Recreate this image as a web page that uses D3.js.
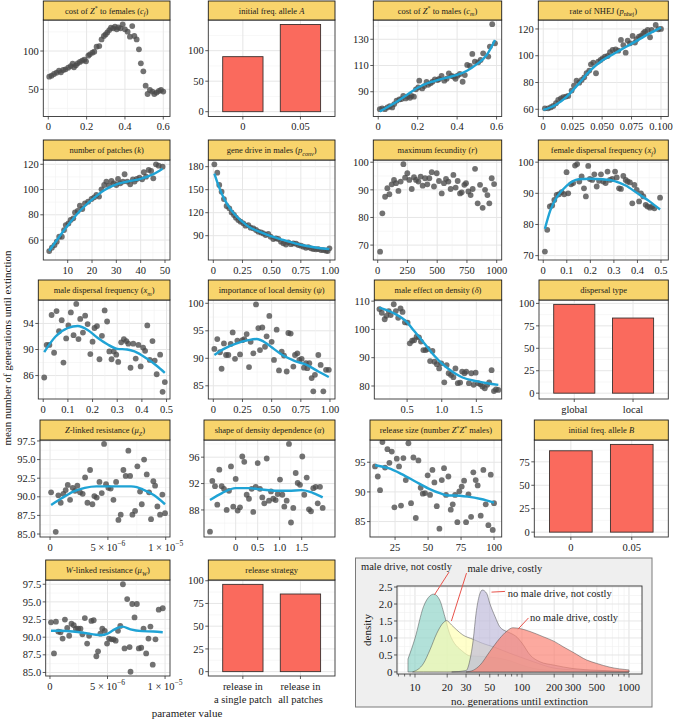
<!DOCTYPE html>
<html><head><meta charset="utf-8">
<script src="https://cdn.jsdelivr.net/npm/d3@7"></script>
<style>body{margin:0;background:#fff}svg{display:block}</style>
</head><body>
<svg id="c" width="674" height="720"></svg>
<script>
// ---------------- DATA ----------------
const cfX=[0.005,0.017,0.030,0.043,0.056,0.066,0.078,0.090,0.104,0.117,0.127,0.134,0.144,0.153,0.165,0.177,0.188,0.197,0.209,0.217,0.230,0.240,0.252,0.266,0.278,0.290,0.299,0.308,0.318,0.327,0.339,0.348,0.357,0.365,0.377,0.388,0.400,0.414,0.426,0.438,0.449,0.461,0.473,0.483,0.496,0.508,0.518,0.530,0.543,0.553,0.565,0.577,0.588,0.600];
const cfY=[66.5,67.8,70.0,71.7,74.3,72.2,75.2,76.1,78.3,80.4,83.5,78.7,81.3,83.9,85.7,87.4,88.7,86.5,93.9,95.7,97.8,99.1,105.7,106.5,115.2,119.6,121.7,124.3,127.4,130.4,129.6,131.7,128.3,130.9,129.6,134.8,128.3,125.2,118.7,132.6,119.6,115.2,102.2,83.9,73.5,54.8,43.9,49.1,47.0,43.9,45.7,47.8,49.1,47.0];

const afCats=["0","0.05"], afVals=[90.2,143];

const cmX=[0.008,0.020,0.034,0.047,0.059,0.071,0.081,0.093,0.107,0.118,0.127,0.139,0.149,0.161,0.169,0.181,0.191,0.203,0.208,0.223,0.233,0.245,0.253,0.265,0.275,0.287,0.301,0.309,0.321,0.335,0.347,0.358,0.372,0.384,0.392,0.402,0.414,0.428,0.439,0.451,0.465,0.477,0.490,0.507,0.519,0.532,0.558,0.566,0.578,0.592];
const cmY=[76.7,77.3,76.7,78.0,79.0,78.0,80.6,83.1,84.1,84.4,86.9,84.9,86.2,85.4,86.9,86.2,91.8,93.3,98.4,92.5,94.3,97.4,95.3,96.4,97.6,99.4,98.9,99.7,102.0,98.4,99.9,104.0,102.0,101.5,99.9,102.2,103.5,97.6,102.7,110.4,109.6,118.8,112.9,112.4,114.2,119.3,116.8,124.4,141.5,126.9];
const cmLX=[0.008,0.05,0.1,0.15,0.2,0.25,0.3,0.35,0.4,0.45,0.5,0.55,0.592];
const cmLY=[75,78.5,83,88,93,96.5,98.8,100.8,102.8,106,111,118,129.5];

const nhX=[0.0014,0.0042,0.0065,0.0085,0.0108,0.0127,0.0150,0.0170,0.0193,0.0212,0.0241,0.0261,0.0283,0.0306,0.0326,0.0348,0.0368,0.0391,0.0405,0.0425,0.0448,0.0467,0.0487,0.0504,0.0524,0.0547,0.0567,0.0589,0.0615,0.0637,0.0660,0.0680,0.0700,0.0717,0.0737,0.0759,0.0779,0.0793,0.0813,0.0830,0.0850,0.0864,0.0887,0.0907,0.0921,0.0955,0.0977,0.1000];
const nhY=[60.7,60.7,61.5,62.5,64.5,67,68.2,69,69.5,70,74,77.7,81.4,79.9,81.9,83.9,86.9,88.9,93.6,94.9,86.9,95.6,96.8,98.1,99.3,99.8,102.6,104.3,104.8,103.8,111.8,108,102.3,111.3,109.3,114.8,109.8,112.3,114.3,114.8,116.8,118,119.3,113.8,119.3,123,119.8,120];
const nhLX=[0,0.01,0.02,0.03,0.04,0.05,0.06,0.07,0.08,0.09,0.1];
const nhLY=[59.5,63,69.5,79,89,96.5,101.5,106.5,111.5,116.5,121];

const kX=[2.4,3.5,4.6,5.5,6.5,7.6,8.5,9.2,10.3,11.2,12.3,13.0,14.1,15.0,16.0,17.1,18.4,19.8,20.9,21.8,22.9,23.9,25.0,25.9,27.0,28.0,28.9,30.0,30.7,31.6,32.7,33.4,34.5,35.7,36.8,37.5,38.4,39.5,40.6,41.3,42.2,43.3,44.3,45.2,46.3,47.4,49.0];
const kY=[51.3,53.9,56,58.7,62.6,62.6,67.9,71.9,73.2,75.9,77.2,81.9,83,87.2,84.6,89.1,90.4,92.5,93.8,95.7,94.4,100.2,103.6,106.3,103.1,106.8,104.9,103.6,108.4,104.9,106.3,112.1,106.3,104.1,108.1,106.3,108.4,109.4,108.1,113.7,110.2,115.5,114.7,108.9,120,118.9,118.1];
const kLX=[2.4,5,10,15,20,25,30,35,40,45,49];
const kLY=[51.5,58.5,71.5,83,92,99.5,104,106.5,108.5,112,116.5];

const pcX=[0.009,0.034,0.051,0.071,0.091,0.114,0.137,0.157,0.177,0.194,0.214,0.234,0.257,0.277,0.300,0.320,0.343,0.366,0.386,0.409,0.429,0.449,0.471,0.491,0.514,0.537,0.557,0.580,0.600,0.623,0.643,0.666,0.686,0.709,0.729,0.751,0.771,0.794,0.814,0.837,0.857,0.880,0.900,0.923,0.943,0.966,0.980,0.995];
const pcY=[183,172.2,156.1,147.4,137.8,128.7,125.7,120.4,117,113.5,110.4,108.3,106.1,103,103.9,100.4,99.6,97.4,95.2,94.3,93,90.9,92.2,88.7,85.7,86.5,85.7,82.2,80,78.5,81.3,79,80,79.5,77.8,77,75.7,74.3,75.2,73.5,72.6,72.2,72.6,71.3,71.3,70.4,70,73.5];
const pcLX=[0.009,0.05,0.1,0.15,0.2,0.25,0.3,0.4,0.5,0.6,0.7,0.8,0.9,0.995];
const pcLY=[171,153,136,124,115,108,102,95,89,84.5,80,76.5,74,72.5];

const rX=[20,39,62,81,98,118,137,154,174,193,216,230,249,266,286,305,322,342,361,378,398,417,434,454,473,496,515,538,557,574,594,613,636,655,672,692,706,728,742,762,781,798,818,840,860,882,902,922,938,958,978];
const rY=[67.6,81.5,87.5,90.6,88.4,92,93.6,92.4,89.6,93,99.3,94.4,96,93.6,90.3,94.6,93.6,93,94.8,91.5,94.2,92,94.2,96.4,91.2,96,93.2,88.7,92.4,94,93,90.3,95.4,90.8,93.2,88.7,89.1,91.8,92.4,89.4,88.1,90.3,97.6,85.1,91.8,83.5,90,88.1,85.1,94.2,92.1];

const xfX=[0.007,0.017,0.028,0.038,0.047,0.057,0.067,0.078,0.089,0.099,0.106,0.118,0.127,0.135,0.144,0.153,0.163,0.173,0.181,0.191,0.198,0.208,0.217,0.227,0.237,0.245,0.255,0.265,0.273,0.283,0.293,0.305,0.312,0.322,0.330,0.340,0.350,0.358,0.368,0.378,0.387,0.397,0.407,0.415,0.425,0.435,0.443,0.453,0.463,0.472,0.496];
const xfY=[71.3,78.3,85.8,86.1,87.9,89.5,89.7,90.4,89.7,96.8,90,92.9,93.3,98.9,99.4,93.8,95.4,91.6,89,98.8,94.6,94.3,96.1,92.2,94,96.1,93.8,93.3,97,94.3,94.6,97,95.1,91.6,91.4,95.6,94.3,93.8,93.5,86.8,92.7,91.1,87.4,90,89,86.3,85.8,85.4,85.8,85.2,88.6];
const xfLX=[0.007,0.03,0.06,0.1,0.15,0.2,0.25,0.3,0.35,0.4,0.45,0.496];
const xfLY=[78.6,84.5,89,92.5,94.5,94.7,94.5,94,92.5,90,87.5,84.8];

const xmX=[0.004,0.014,0.025,0.034,0.044,0.054,0.064,0.075,0.082,0.093,0.102,0.112,0.123,0.134,0.143,0.150,0.161,0.170,0.180,0.191,0.200,0.208,0.218,0.228,0.238,0.249,0.259,0.268,0.277,0.286,0.296,0.304,0.316,0.327,0.337,0.345,0.354,0.365,0.375,0.386,0.395,0.405,0.413,0.422,0.432,0.443,0.452,0.460,0.474,0.484,0.493];
const xmY=[85.7,90.7,90.7,95.3,89.5,95.9,92.8,94.5,88,91.7,93.7,95.7,92.2,97,91.6,94.7,92.6,95.2,93.9,89.3,91.2,93.3,93.6,88.5,92.1,96,94.3,89.7,88.5,89.7,89.2,88.1,91.1,91.6,91.3,90.9,87.2,90.9,88.6,90.7,87.4,90.3,89.8,93.7,88.4,91.3,88.3,86.2,89.2,83.5,85];
const xmLX=[0.004,0.05,0.1,0.14,0.18,0.22,0.26,0.3,0.34,0.37,0.42,0.46,0.493];
const xmLY=[89.6,92,93.3,93.6,93,91.8,90.8,90.1,90,89.7,88.6,87.5,86.4];

const psiX=[0.009,0.034,0.057,0.071,0.091,0.109,0.129,0.149,0.166,0.186,0.206,0.229,0.249,0.266,0.286,0.306,0.320,0.343,0.366,0.386,0.400,0.420,0.443,0.457,0.480,0.500,0.520,0.543,0.563,0.586,0.606,0.629,0.643,0.663,0.686,0.700,0.720,0.737,0.757,0.777,0.794,0.806,0.823,0.843,0.857,0.871,0.900,0.920,0.943,0.966,0.99];
const psiY=[91.7,93.5,91.1,88.1,92.7,90.6,90.6,92.6,94.7,89.9,93.2,90.7,93.3,93.5,94.4,88.4,93,90.9,99.8,95.5,91.5,95.6,92.1,94,97.7,93,89.7,95.2,87.8,91.2,90.5,87.6,94.6,94.5,88.5,90.6,90.9,89.7,89.9,88.3,89.1,88.2,89.1,86.4,84,87,90.6,88.8,84,87.9,87.9];
const psiLX=[0.009,0.1,0.2,0.3,0.37,0.45,0.5,0.6,0.7,0.8,0.9,0.99];
const psiLY=[90.6,91.8,92.7,93.3,93.5,92.8,92,90.5,89.5,88.8,87.6,86.6];

const delX=[0.1,0.134,0.176,0.2,0.234,0.263,0.307,0.337,0.371,0.405,0.434,0.468,0.507,0.539,0.573,0.602,0.637,0.671,0.7,0.734,0.768,0.798,0.832,0.866,0.895,0.929,0.963,0.993,1.037,1.071,1.1,1.134,1.168,1.198,1.232,1.266,1.295,1.329,1.354,1.393,1.427,1.461,1.49,1.524,1.559,1.588,1.622,1.656,1.685,1.72,1.754,1.783,1.817];
const delY=[107.2,105.9,103.6,104.8,106.5,105.1,108.9,106.5,104.1,107.4,106.2,102.5,102.4,95.1,96,96.2,97.4,97.2,95.7,92.7,92.7,93.1,88.8,92.4,88.6,87.7,86.2,88,81.3,87.4,84.5,83.9,83.1,86.2,81,81.2,85.1,84.5,85.1,81,84.5,80.4,84.7,81,80.6,79.8,79.2,80.4,81.3,85.6,78.2,78.8,78.6];
const delLX=[0.1,0.3,0.5,0.6,0.7,0.8,0.9,1.0,1.1,1.2,1.3,1.5,1.7,1.817];
const delLY=[107.7,105.8,102.5,99.5,96.5,93.5,90.5,88,86,84.3,83,81.7,80.8,80.4];

const dispCats=["global","local"], dispVals=[98.9,83.7];

const muZX=[0.09,0.49,0.72,0.92,1.15,1.35,1.53,1.73,1.96,2.16,2.36,2.59,2.82,3.03,3.23,3.46,3.66,3.83,4.03,4.27,4.47,4.67,4.84,5.04,5.24,5.48,5.71,5.91,6.11,6.34,6.54,6.77,6.92,7.12,7.35,7.55,7.78,7.93,8.13,8.36,8.56,8.73,8.93,9.08,9.28,9.51,9.71,9.94].map(v=>v*1e-6);
const muZY=[90.6,85.3,90.2,89.2,90.4,90.9,91.6,89.6,91.2,90.8,91.5,90.6,90.4,92.6,89.2,93.6,89,90.1,89.9,92,90.5,97.1,91.7,91.2,91.1,89.6,92,86.9,87.6,93.6,92.8,96.2,92.8,87.6,88.1,94.1,90.7,89,95,93,90.6,87,92.1,91.5,88.7,87.6,90.3,87.8];
const muZLX=[0.09,1,2,3,4,5,6,7,7.5,8,9,9.94].map(v=>v*1e-6);
const muZLY=[88.9,89.8,90.7,91.2,91.4,91.4,91.4,91.4,91.3,91,90.2,89];

const alX=[-0.584,-0.531,-0.47,-0.418,-0.372,-0.318,-0.266,-0.205,-0.152,-0.107,-0.055,0,0.045,0.098,0.15,0.195,0.25,0.302,0.364,0.4,0.455,0.5,0.552,0.605,0.65,0.705,0.757,0.802,0.855,0.909,0.955,1.007,1.06,1.105,1.159,1.211,1.257,1.309,1.364,1.409,1.461,1.514,1.559,1.614,1.666,1.711,1.764,1.818,1.864,1.916,1.977];
const alY=[84.7,92.4,91.6,88.8,94.1,91.6,91.2,88,90.9,94.6,88.5,92.7,87.9,88.4,96.1,95.3,90.3,89.7,91.2,87.7,91.5,95.1,91.2,89.9,89,95.8,89.4,90.8,89.7,89.5,90.4,92.6,90.3,88.5,89.4,98,86.1,88.3,93.6,92.1,91.8,96.1,90.3,92.9,88.1,87.8,91.3,91.5,89,91.5,88.3];
const alLX=[-0.584,-0.3,0,0.3,0.6,0.9,1.2,1.5,1.75,1.977];
const alLY=[89.5,90.6,91.3,91.3,91.1,90.9,90.9,91,90.6,89.9];

const relX=[9.8,11.9,13.6,15.4,17.4,19.2,20.7,22.5,24.5,26.3,28,29.5,31.3,33.1,35.1,37.1,38.9,40.7,42.7,44.4,46,47.7,49.7,51.5,53.3,54.8,56.6,58.6,60.4,62.1,63.6,65.4,67.2,68.7,70.5,72.2,73.7,75.5,77.3,78.8,80.6,82.6,84.3,86.1,87.6,89.9,91.9,93.7,95.7,97.5,99,100];
const relY=[94.3,92.6,90.3,98.4,94.1,97.2,94.9,96.8,87.4,95.6,94.3,87.7,95.7,92,98.2,88.1,95.8,85.6,95.3,90.7,89.7,89.8,92.8,89.5,93.7,91.6,87.6,83.8,92,94,89.5,92.6,87,87.9,89.5,84.9,90.1,90.9,91.9,84.9,89.6,85.8,93.3,92,91.1,86,93.7,87.9,84.4,92.9,83.6,88.1];
const relLX=[9.8,20,30,40,50,60,65,70,80,90,100];
const relLY=[94.5,94,93,91.8,90.6,89.7,89.4,89.4,89.2,88.8,88.2];

const bCats=["0","0.05"], bVals=[86.8,93.6];

const muWX=[0.09,0.35,0.52,0.72,0.92,1.10,1.30,1.50,1.67,1.87,2.07,2.25,2.45,2.65,2.82,3.03,3.23,3.40,3.60,3.80,4.03,4.18,4.38,4.55,4.76,4.96,5.13,5.33,5.53,5.71,5.91,6.11,6.34,6.48,6.71,6.92,7.00,7.15,7.35,7.55,7.72,7.93,8.13,8.36,8.56,8.73,8.93,9.17,9.45,9.80].map(v=>v*1e-6);
const muWY=[92.1,87.7,92.2,90.8,90.7,89.8,92.5,91.3,90.2,91.9,91.7,91.2,91.2,91.2,90.4,92.7,89.1,90.2,92.3,92.4,87.3,88,90.5,91.2,90.9,89.1,89.8,89.7,89.7,89.5,90.9,91.6,97.5,88.4,95.4,88.6,85.1,94.7,92.8,94.7,88.4,88.5,91.2,87.7,89.8,91.5,86.1,89.7,93.9,94.1];
const muWLX=[0.09,1,2,3,4,4.5,5,5.5,6,6.3,7,8,9,9.8].map(v=>v*1e-6);
const muWLY=[90.9,90.9,90.8,90.6,90.35,90.3,90.5,91,91.4,91.5,91.1,90.85,90.8,90.7];

const stratCats=["single","all"], stratVals=[96,85.4];
const stratLabels=[["release in","a single patch"],["release in","all patches"]];

// density inset
const densLabels=["male drive, not costly","male drive, costly","no male drive, not costly","no male drive, costly"];
const mdncX=[8.6,10,12,13.8,15,17,19,21,28,33,40,50,62,77,100,130,200,400,1000];
const mdncY=[0.38,0.99,1.92,2.24,2.29,2.12,1.63,1.14,0.6,0.47,0.46,0.44,0.4,0.33,0.2,0.1,0.04,0.01,0];
const mdcX=[9.5,12,13.8,16,18.4,19.8,22,24.5,28,35,43,54,77,100,128,195,300,500,1000];
const mdcY=[0,0.25,0.65,1.14,1.45,1.51,1.38,1.24,1.09,0.96,0.84,0.74,0.55,0.42,0.3,0.12,0.06,0.03,0.01];
const nmdncX=[22,30,32.6,35,37.2,40,42.6,46.8,50,56,62,72,77,90,100,119,147,200,300,500,1000];
const nmdncY=[0,0.04,0.35,0.94,1.72,2.26,2.41,2.31,2.02,1.63,1.33,1.19,1.15,1.02,0.85,0.5,0.3,0.2,0.1,0.05,0.02];
const nmdcX=[30,35,40.5,50,62,72,82,95,119,157,200,243,300,403,500,664,1000];
const nmdcY=[0,0.05,0.2,0.6,0.99,1.2,1.3,1.28,1.19,1.04,0.9,0.74,0.58,0.35,0.25,0.14,0.06];
const densTicks=[10,20,30,50,100,200,300,500,1000];
const densYTicks=[0,0.5,1,1.5,2,2.5];
const annText=[[3.13,3.01],[30.9,2.93],[73.5,2.22],[118.8,1.51]];
const annFrom=[[15.2,2.27],[21.9,1.5],[51.9,2.35],[91.8,1.26]];
const annTo=[[20.8,2.94],[30.3,2.91],[69.3,2.37],[115,1.59]];

// strip titles
const titles=[
 [["cost of "],["Z","i"],["*","sup"],[" to females ("],["c","i"],["f","isub"],[")"]],
 [["initial freq. allele "],["A","i"]],
 [["cost of "],["Z","i"],["*","sup"],[" to males ("],["c","i"],["m","isub"],[")"]],
 [["rate of NHEJ ("],["p","i"],["nhej","sub"],[")"]],
 [["number of patches ("],["k","i"],[")"]],
 [["gene drive in males ("],["p","i"],["conv","isub"],[")"]],
 [["maximum fecundity ("],["r","i"],[")"]],
 [["female dispersal frequency ("],["x","i"],["f","isub"],[")"]],
 [["male dispersal frequency ("],["x","i"],["m","isub"],[")"]],
 [["importance of local density ("],["\u03c8","i"],[")"]],
 [["male effect on density ("],["\u03b4","i"],[")"]],
 [["dispersal type"]],
 [["Z","i"],["-linked resistance ("],["\u03bc","i"],["Z","isub"],[")"]],
 [["shape of density dependence ("],["\u03b1","i"],[")"]],
 [["release size (number "],["Z","i"],["*","sup"],["Z","i"],["*","sup"],[" males)"]],
 [["initial freq. allele "],["B","i"]],
 [["W","i"],["-linked resistance ("],["\u03bc","i"],["W","isub"],[")"]],
 [["release strategy"]]
];

// ---------------- LAYOUT / STYLE ----------------
const FONT='"Liberation Serif","Times New Roman",serif';
const STRIP='#f8d46c', BAR='#fa6a5d', PT='#4a4a4a', LINE='#1fa3d5';
const rowsY=[[1,20,116.5],[140,160,260],[280,300,399],[420,440,537],[560,580,676]];
const colR=[170,335,501.7,668.3];
const panelLeft=[43.3,208.3,373.3,538.3, 43.3,208.3,373.3,538.3, 38.3,208.3,374.3,539, 40,204,370,534.3, 45.7,208.3];

const fPlain=d=>String(d);
const f2=d=>d===0?"0":d3.format(".2f")(d);
const f3=d=>d===0?"0":d3.format(".3f")(d);
const f1=d3.format(".1f");
const sci=d=>d===0?[["0"]]:(d===5e-6?[["5 \u00d7 10"],["\u22126","sup"]]:[["1 \u00d7 10"],["\u22125","sup"]]);

const panels=[
 {type:'pts',x:cfX,y:cfY,xd:[-0.026,0.635],yd:[14.5,140.5],xt:[0,0.2,0.4,0.6],yt:[50,100]},
 {type:'bar',cats:afCats,vals:afVals,yd:[-7.9,150.3],yt:[0,50,100]},
 {type:'pts',x:cmX,y:cmY,lx:cmLX,ly:cmLY,xd:[-0.025,0.626],yd:[71.1,144.7],xt:[0,0.2,0.4,0.6],yt:[90,110,130]},
 {type:'pts',x:nhX,y:nhY,lx:nhLX,ly:nhLY,xd:[-0.0042,0.1062],yd:[54.6,126.7],xt:[0,0.025,0.05,0.075,0.1],xf:f3,yt:[60,80,100,120]},
 {type:'pts',x:kX,y:kY,lx:kLX,ly:kLY,xd:[-0.03,52.06],yd:[44.2,123.4],xt:[10,20,30,40,50],yt:[60,80,100,120]},
 {type:'pts',x:pcX,y:pcY,lx:pcLX,ly:pcLY,xd:[-0.043,1.043],yd:[58.3,188.7],xt:[0,0.25,0.5,0.75,1],xf:f2,yt:[90,120,150,180]},
 {type:'pts',x:rX,y:rY,xd:[-37,1042],yd:[64.6,100.8],xt:[0,250,500,750,1000],yt:[70,80,90,100]},
 {type:'pts',x:xfX,y:xfY,lx:xfLX,ly:xfLY,xd:[-0.021,0.531],yd:[68.6,100.7],xt:[0,0.1,0.2,0.3,0.4,0.5],yt:[70,80,90,100]},
 {type:'pts',x:xmX,y:xmY,lx:xmLX,ly:xmLY,xd:[-0.02,0.514],yd:[82.4,97.6],xt:[0,0.1,0.2,0.3,0.4,0.5],yt:[86,90,94]},
 {type:'pts',x:psiX,y:psiY,lx:psiLX,ly:psiLY,xd:[-0.043,1.043],yd:[82.6,100.6],xt:[0,0.25,0.5,0.75,1],xf:f2,yt:[85,90,95,100]},
 {type:'pts',x:delX,y:delY,lx:delLX,ly:delLY,xd:[0.026,1.866],yd:[75.4,110.4],xt:[0.5,1,1.5],xf:f1,yt:[80,90,100,110]},
 {type:'bar',cats:dispCats,vals:dispVals,yd:[-6.5,103.8],yt:[0,25,50,75,100]},
 {type:'pts',x:muZX,y:muZY,lx:muZLX,ly:muZLY,xd:[-0.87e-6,1.037e-5],yd:[84.6,97.63],xt:[0,5e-6,1e-5],xrich:sci,yt:[85,87.5,90,92.5,95,97.5],yf:f1},
 {type:'pts',x:alX,y:alY,lx:alLX,ly:alLY,xd:[-0.72,2.257],yd:[83.9,98.6],xt:[0,0.5,1,1.5],xf:d=>d===0?"0":f1(d),yt:[88,92,96]},
 {type:'pts',x:relX,y:relY,lx:relLX,ly:relLY,xd:[6,105.8],yd:[82.4,98.75],xt:[25,50,75,100],yt:[85,90,95]},
 {type:'bar',cats:bCats,vals:bVals,yd:[-5.2,98.3],yt:[0,25,50,75]},
 {type:'pts',x:muWX,y:muWY,lx:muWLX,ly:muWLY,xd:[-0.37e-6,1.043e-5],yd:[84.5,98.1],xt:[0,5e-6,1e-5],xrich:sci,yt:[85,87.5,90,92.5,95,97.5],yf:f1},
 {type:'bar',cats:stratCats,vals:stratVals,labels:stratLabels,yd:[-4.8,100.8],yt:[0,25,50,75,100]}
];

// ---------------- DRAW ----------------
const svg=d3.select('#c').attr('font-family',FONT);

function rich(sel,segs,fs){
  let shift=0;
  segs.forEach(([t,st])=>{
    st=st||'';
    let target=0,size=fs;
    if(st.includes('sub')){target=fs*0.3;size=fs*0.72;}
    if(st.includes('sup')){target=-fs*0.4;size=fs*0.72;}
    const ts=sel.append('tspan').text(t).attr('font-size',size).attr('dy',target-shift);
    shift=target;
    if(st.startsWith('i'))ts.attr('font-style','italic');
  });
}
function minors(ticks,dom){
  const step=ticks.length>1?ticks[1]-ticks[0]:ticks[0];
  const out=[];
  for(let k=-30;k<60;k++){const v=ticks[0]+(k+0.5)*step; if(v>dom[0]&&v<dom[1])out.push(v);}
  return out;
}

panels.forEach((p,i)=>{
  const row=Math.floor(i/4),col=i%4;
  const [st,pt,pb]=rowsY[row];
  const l=panelLeft[i],r=colR[col];
  const g=svg.append('g');
  const y=d3.scaleLinear().domain(p.yd).range([pb,pt]);
  let x;
  if(p.type==='bar') x=d3.scalePoint().domain(p.cats).range([l,r]).padding(0.6);
  else x=d3.scaleLinear().domain(p.xd).range([l,r]);

  g.append('rect').attr('x',l).attr('y',pt).attr('width',r-l).attr('height',pb-pt).attr('fill','#fff');
  minors(p.yt,p.yd).forEach(v=>g.append('line').attr('x1',l).attr('x2',r).attr('y1',y(v)).attr('y2',y(v)).attr('stroke','#f2f2f2').attr('stroke-width',0.6));
  p.yt.forEach(v=>g.append('line').attr('x1',l).attr('x2',r).attr('y1',y(v)).attr('y2',y(v)).attr('stroke','#e6e6e6').attr('stroke-width',1));
  if(p.type==='bar'){
    p.cats.forEach(c=>g.append('line').attr('x1',x(c)).attr('x2',x(c)).attr('y1',pt).attr('y2',pb).attr('stroke','#e6e6e6').attr('stroke-width',1));
  } else {
    minors(p.xt,p.xd).forEach(v=>g.append('line').attr('x1',x(v)).attr('x2',x(v)).attr('y1',pt).attr('y2',pb).attr('stroke','#f2f2f2').attr('stroke-width',0.6));
    p.xt.forEach(v=>g.append('line').attr('x1',x(v)).attr('x2',x(v)).attr('y1',pt).attr('y2',pb).attr('stroke','#e6e6e6').attr('stroke-width',1));
  }
  if(p.type==='bar'){
    const bw=x.step()*0.7;
    g.selectAll('rect.bar').data(d3.zip(p.cats,p.vals)).join('rect').attr('class','bar')
      .attr('x',d=>x(d[0])-bw/2).attr('width',bw).attr('y',d=>y(d[1])).attr('height',d=>y(0)-y(d[1]))
      .attr('fill',BAR).attr('stroke','#3b302e').attr('stroke-width',0.9);
  } else {
    g.selectAll('circle').data(d3.zip(p.x,p.y)).join('circle')
      .attr('cx',d=>x(d[0])).attr('cy',d=>y(d[1])).attr('r',2.9).attr('fill',PT).attr('fill-opacity',0.78);
    if(p.lx){
      g.append('path').datum(d3.zip(p.lx,p.ly)).attr('fill','none').attr('stroke',LINE).attr('stroke-width',2.4)
        .attr('d',d3.line().x(d=>x(d[0])).y(d=>y(d[1])).curve(d3.curveMonotoneX));
    }
  }
  g.append('rect').attr('x',l).attr('y',pt).attr('width',r-l).attr('height',pb-pt).attr('fill','none').attr('stroke','#333').attr('stroke-width',0.9);
  g.append('rect').attr('x',l).attr('y',st).attr('width',r-l).attr('height',pt-st).attr('fill',STRIP).attr('stroke','#1a1a1a').attr('stroke-width',0.9);
  const tt=g.append('text').attr('x',(l+r)/2).attr('y',(st+pt)/2+3).attr('text-anchor','middle').attr('fill','#1a1a1a').attr('font-size',8.5);
  rich(tt,titles[i],8.5);
  const yf=p.yf||fPlain;
  p.yt.forEach(v=>{
    g.append('line').attr('x1',l-3).attr('x2',l).attr('y1',y(v)).attr('y2',y(v)).attr('stroke','#333').attr('stroke-width',0.8);
    g.append('text').attr('x',l-4.5).attr('y',y(v)).attr('dy','0.35em').attr('text-anchor','end').attr('font-size',10.5).attr('fill','#1a1a1a').text(yf(v));
  });
  const xs=p.type==='bar'?p.cats:p.xt;
  xs.forEach((v,j)=>{
    const px=x(v);
    g.append('line').attr('x1',px).attr('x2',px).attr('y1',pb).attr('y2',pb+3).attr('stroke','#333').attr('stroke-width',0.8);
    if(p.labels){
      p.labels[j].forEach((ln,k)=>g.append('text').attr('x',px).attr('y',pb+14+k*12.5).attr('text-anchor','middle').attr('font-size',10.5).attr('fill','#1a1a1a').text(ln));
    } else {
      const t=g.append('text').attr('x',px).attr('y',pb+13.5).attr('text-anchor','middle').attr('font-size',10.5).attr('fill','#1a1a1a');
      if(p.xrich) rich(t,p.xrich(v),10.5);
      else t.text(p.type==='bar'?v:(p.xf||fPlain)(v));
    }
  });
});

svg.append('text').attr('transform','translate(11,348) rotate(-90)').attr('text-anchor','middle').attr('font-size',11).attr('fill','#1a1a1a').text('mean number of generations until extinction');
svg.append('text').attr('x',187).attr('y',717).attr('text-anchor','middle').attr('font-size',11).attr('fill','#1a1a1a').text('parameter value');

// ---------------- DENSITY INSET ----------------
const ig=svg.append('g');
ig.append('rect').attr('x',355.5).attr('y',558).attr('width',296.5).attr('height',149).attr('fill','#efefef').attr('stroke','#7a7a7a').attr('stroke-width',1);
const DL=397,DR=642,DT=586,DB=674;
const dx=d3.scaleLog().domain([6.79,1323]).range([DL,DR]);
const dy=d3.scaleLinear().domain([-0.06,2.53]).range([DB,DT]);
ig.append('rect').attr('x',DL).attr('y',DT).attr('width',DR-DL).attr('height',DB-DT).attr('fill','#fff');
const allLog=[];
[1,10,100].forEach(dec=>{for(let k=1;k<10;k++){const v=k*dec; if(v>=dx.domain()[0]&&v<=dx.domain()[1])allLog.push(v);}});
allLog.push(1000);
allLog.forEach(v=>ig.append('line').attr('x1',dx(v)).attr('x2',dx(v)).attr('y1',DT).attr('y2',DB).attr('stroke','#eeeeee').attr('stroke-width',0.6));
densTicks.forEach(v=>ig.append('line').attr('x1',dx(v)).attr('x2',dx(v)).attr('y1',DT).attr('y2',DB).attr('stroke','#e4e4e4').attr('stroke-width',0.9));
minors(densYTicks,dy.domain()).forEach(v=>ig.append('line').attr('x1',DL).attr('x2',DR).attr('y1',dy(v)).attr('y2',dy(v)).attr('stroke','#f0f0f0').attr('stroke-width',0.6));
densYTicks.forEach(v=>ig.append('line').attr('x1',DL).attr('x2',DR).attr('y1',dy(v)).attr('y2',dy(v)).attr('stroke','#e4e4e4').attr('stroke-width',0.9));

const densSeries=[[mdncX,mdncY],[mdcX,mdcY],[nmdncX,nmdncY],[nmdcX,nmdcY]];
const densFill=['#8dd3c7','#ffffb3','#bebada','#fb8072'];
const area=d3.area().x(d=>dx(d[0])).y0(dy(0)).y1(d=>dy(d[1])).curve(d3.curveMonotoneX);
densSeries.forEach(([xs,ys],k)=>{
  ig.append('path').datum(d3.zip(xs,ys)).attr('d',area).attr('fill',densFill[k]).attr('fill-opacity',0.68)
    .attr('stroke','#4d4d4d').attr('stroke-width',0.6).attr('stroke-opacity',0.85);
});
ig.append('rect').attr('x',DL).attr('y',DT).attr('width',DR-DL).attr('height',DB-DT).attr('fill','none').attr('stroke','#333').attr('stroke-width',0.9);
allLog.forEach(v=>ig.append('line').attr('x1',dx(v)).attr('x2',dx(v)).attr('y1',DB).attr('y2',DB+(densTicks.includes(v)?3.5:2.5)).attr('stroke','#333').attr('stroke-width',0.7));
densTicks.forEach(v=>ig.append('text').attr('x',dx(v)).attr('y',DB+17).attr('text-anchor','middle').attr('font-size',11).attr('fill','#1a1a1a').text(v));
densYTicks.forEach(v=>{
  ig.append('line').attr('x1',DL-3).attr('x2',DL).attr('y1',dy(v)).attr('y2',dy(v)).attr('stroke','#333').attr('stroke-width',0.8);
  ig.append('text').attr('x',DL-4.5).attr('y',dy(v)).attr('dy','0.35em').attr('text-anchor','end').attr('font-size',11).attr('fill','#1a1a1a').text(v===0?"0":d3.format(".1f")(v));
});
ig.append('text').attr('x',(DL+DR)/2).attr('y',704.5).attr('text-anchor','middle').attr('font-size',11).attr('fill','#1a1a1a').text('no. generations until extinction');
ig.append('text').attr('transform',`translate(371,${(DT+DB)/2}) rotate(-90)`).attr('text-anchor','middle').attr('font-size',11).attr('fill','#1a1a1a').text('density');
densLabels.forEach((lab,k)=>{
  ig.append('line').attr('x1',dx(annFrom[k][0])).attr('y1',dy(annFrom[k][1])).attr('x2',dx(annTo[k][0])).attr('y2',dy(annTo[k][1]))
    .attr('stroke','#e8534b').attr('stroke-width',1);
  ig.append('text').attr('x',dx(annText[k][0])).attr('y',dy(annText[k][1])).attr('font-size',10.5).attr('fill','#1a1a1a').text(lab);
});
</script>
</body></html>
